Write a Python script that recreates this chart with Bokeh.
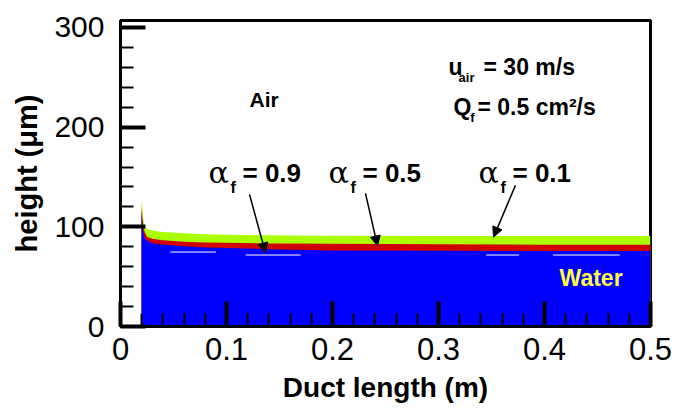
from bokeh.plotting import figure
from bokeh.models import Label, Arrow, NormalHead, FixedTicker, NumeralTickFormatter, Range1d
from bokeh.embed import file_html
from bokeh.resources import INLINE

# ---- data ----
x_pos = [0.0198, 0.0215, 0.023, 0.025, 0.03, 0.04, 0.06, 0.08, 0.10, 0.15, 0.20, 0.30, 0.40, 0.50]
h_a01 = [128, 107.5, 100.3, 97.8, 96.2, 94.7, 93.5, 92.6, 92.1, 91.3, 91.1, 90.9, 90.7, 90.7]
h_a05 = [119.8, 100.3, 94.2, 90.1, 88, 86.5, 85, 84.2, 83.9, 83.2, 82.9, 82.4, 82.1, 81.9]
h_a09 = [114.6, 94.2, 89.1, 86, 83.4, 81.9, 80.4, 79.3, 78.8, 77.3, 76.3, 76, 75.7, 75.7]

# white gaps seen along the top of the water layer
gap_x0 = [0.047, 0.118, 0.345, 0.408]
gap_x1 = [0.090, 0.170, 0.376, 0.471]
gap_h = [74.7, 71.7, 71.7, 71.7]

x_ticks = [0, 0.1, 0.2, 0.3, 0.4, 0.5]
x_minor = [0.02, 0.04, 0.06, 0.08, 0.12, 0.14, 0.16, 0.18, 0.22, 0.24, 0.26, 0.28,
           0.32, 0.34, 0.36, 0.38, 0.42, 0.44, 0.46, 0.48]
y_ticks = [0, 100, 200, 300]
y_minor = [20, 40, 60, 80, 120, 140, 160, 180, 220, 240, 260, 280]

alpha_labels = ["= 0.9", "= 0.5", "= 0.1"]

FONT = "Liberation Sans"

p = figure(width=675, height=405, x_range=Range1d(0, 0.5), y_range=Range1d(0, 307),
           output_backend="svg", toolbar_location=None,
           min_border_left=120, min_border_right=25, min_border_top=20, min_border_bottom=77)
p.grid.visible = False
p.outline_line_color = "black"
p.outline_line_width = 3
p.background_fill_color = "white"
p.border_fill_color = "white"

# layers
p.varea(x=x_pos, y1=0, y2=h_a01, fill_color="#aaff00")
p.varea(x=x_pos, y1=0, y2=h_a05, fill_color="#d00000")
p.varea(x=x_pos, y1=0, y2=h_a09, fill_color="#0000ff")
p.segment(x0=gap_x0, y0=gap_h, x1=gap_x1, y1=gap_h, line_color="white", line_width=1)

for ax, ticks, minor in ((p.xaxis, x_ticks, x_minor), (p.yaxis, y_ticks, y_minor)):
    ax.ticker = FixedTicker(ticks=ticks, minor_ticks=minor)
    ax.axis_line_width = 3
    ax.major_tick_in = 25
    ax.major_tick_out = 0
    ax.major_tick_line_width = 4
    ax.minor_tick_in = 13
    ax.minor_tick_out = 0
    ax.minor_tick_line_width = 2
    ax.major_label_text_font = FONT
    ax.major_label_text_color = "black"
    ax.axis_label_text_font = FONT
    ax.axis_label_text_font_style = "bold"
    ax.axis_label_text_color = "black"

p.xaxis.formatter = NumeralTickFormatter(format="0.[0]")
p.xaxis.major_label_text_font_size = "31px"
p.yaxis.major_label_text_font_size = "30px"
p.xaxis.axis_label = "Duct length (m)"
p.xaxis.axis_label_text_font_size = "28px"
p.xaxis.major_label_standoff = 11
p.xaxis.axis_label_standoff = 9
p.yaxis.axis_label = "height (\u03bcm)"
p.yaxis.axis_label_text_font_size = "29px"
p.yaxis.major_label_standoff = 16
p.yaxis.axis_label_standoff = 8


def lab(x, y, text, size, bold=True, font=FONT, color="black"):
    p.add_layout(Label(x=x, y=y, text=text, text_font=font, text_font_size=size,
                       text_font_style="bold" if bold else "normal", text_color=color,
                       text_baseline="alphabetic", text_align="left"))


lab(0.1217, 227.6, "Air", "21px")
lab(0.4142, 48.9, "Water", "23px", color="#ffff40")

# u_air = 30 m/s
lab(0.3094, 260, "u", "23px")
lab(0.3189, 249.8, "air", "13px")
lab(0.3425, 260, "= 30 m/s", "23px")
# Q_f = 0.5 cm2/s
lab(0.3142, 220, "Q", "23px")
lab(0.3300, 209.9, "f", "13px")
lab(0.3368, 220, "= 0.5 cm\u00b2/s", "23px")

# alpha_f labels and arrows
alpha_x = [0.083, 0.1962, 0.3377]
for ax_, t in zip(alpha_x, alpha_labels):
    lab(ax_, 155, "\u03b1", "30px", bold=False, font="DejaVu Serif")
    lab(ax_ + 0.0208, 139.2, "f", "16px")
    lab(ax_ + 0.0321, 153.7, t, "26px")

arr_x0 = [0.1217, 0.2311, 0.3726]
arr_y0 = [132.6, 133.6, 141.6]
arr_x1 = [0.1368, 0.2425, 0.3519]
arr_y1 = [73.8, 80.8, 89.7]
for a, b, c, d in zip(arr_x0, arr_y0, arr_x1, arr_y1):
    p.add_layout(Arrow(x_start=a, y_start=b, x_end=c, y_end=d, line_width=1.5, line_color="black",
                       end=NormalHead(size=10, fill_color="black", line_color="black")))

open("out.html", "w").write(file_html(p, INLINE))
